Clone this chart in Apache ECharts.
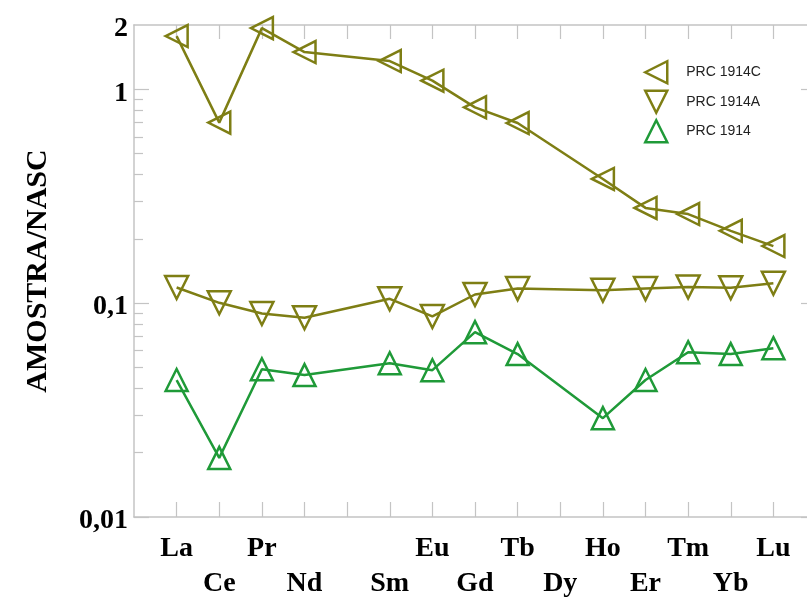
<!DOCTYPE html>
<html>
<head>
<meta charset="utf-8">
<script src="https://cdn.jsdelivr.net/npm/echarts@6/dist/echarts.min.js"></script>
<style>html,body{margin:0;padding:0;background:#fff}#c{width:807px;height:599px}</style>
</head>
<body>
<div id="c"></div>
<script>
// Elements (Pm has no label / no data)
var elements = ['La','Ce','Pr','Nd','Pm','Sm','Eu','Gd','Tb','Dy','Ho','Er','Tm','Yb','Lu'];
var elementLabels = ['La','Ce','Pr','Nd','','Sm','Eu','Gd','Tb','Dy','Ho','Er','Tm','Yb','Lu'];
// values (AMOSTRA/NASC), null = not analysed
var prc1914C = [1.775, 0.699, 1.934, 1.494, null, 1.356, 1.098, 0.824, 0.696, null, 0.381, 0.279, 0.261, 0.218, 0.185];
var prc1914A = [0.1184, 0.1004, 0.0895, 0.0855, null, 0.1048, 0.0867, 0.1098, 0.117, null, 0.115, 0.117, 0.119, 0.118, 0.124];
var prc1914  = [0.0437, 0.0189, 0.0491, 0.0461, null, 0.0524, 0.0486, 0.0732, 0.0578, null, 0.0290, 0.0437, 0.0590, 0.0578, 0.0616];
var yMajorTicks = [0.01, 0.1, 1];
var yTickLabels = [0.01, 0.1, 1, 2];
var yMinorTicks = [0.02,0.03,0.04,0.05,0.06,0.07,0.08,0.09,0.2,0.3,0.4,0.5,0.6,0.7,0.8,0.9];
var xTickPositions = [1,2,3,4,5,6,7,8,9,10,11,12,13,14,15];

var olive = '#7e7e14';
var green = '#1f9a38';
var axisGrey = '#c4c4c4';

// legend icon shapes (triangle pointing left / down / up)
var iconLeft = 'path://M0,5L10,0L10,10Z';
var iconDown = 'path://M0,0L10,0L5,10Z';
var iconUp = 'path://M5,0L10,10L0,10Z';

function toPairs(arr) {
  var out = [];
  arr.forEach(function (v, i) { if (v !== null) out.push([i + 1, v]); });
  return out;
}

function fmtY(v) {
  var s = String(+v.toPrecision(6));
  return '{a|' + s.replace('.', ',') + '}';
}

var chart = echarts.init(document.getElementById('c'));

function yAxisDef(pos, ticks, len, showLabels, showLine) {
  return {
    type: 'log', logBase: 10, min: 0.01, max: 2, position: pos,
    axisLine: {show: showLine, lineStyle: {color: axisGrey, width: 1.5}},
    axisTick: {show: true, inside: true, length: len, customValues: ticks, lineStyle: {color: axisGrey, width: 1.2}},
    axisLabel: showLabels ? {
      show: true, customValues: yTickLabels, margin: 6,
      fontFamily: 'Liberation Serif', fontWeight: 'bold', fontSize: 28, color: '#000',
      formatter: fmtY,
      rich: {a: {fontFamily: 'Liberation Serif', fontWeight: 'bold', fontSize: 28, color: '#000', padding: [8, 0, 0, 0]}}
    } : {show: false},
    splitLine: {show: false}
  };
}

var yAxes = [
  Object.assign(yAxisDef('left', yMajorTicks, 15, true, true), {
    name: 'AMOSTRA/NASC', nameLocation: 'middle', nameGap: 81, nameRotate: 90,
    nameTextStyle: {fontFamily: 'Liberation Serif', fontWeight: 'bold', fontSize: 30, color: '#000'}
  }),
  yAxisDef('left', yMinorTicks, 9, false, false),
  yAxisDef('right', yMajorTicks, 15, false, true),
  yAxisDef('right', yMinorTicks, 9, false, false)
];

function mkSeries(name, data, color, rot, size) {
  return {
    name: name, type: 'line', data: toPairs(data),
    xAxisIndex: 0, yAxisIndex: 0,
    symbol: 'triangle', symbolSize: size, symbolRotate: rot,
    showAllSymbol: true,
    lineStyle: {color: color, width: 2.5},
    itemStyle: {color: 'rgba(255,255,255,0)', borderColor: color, borderWidth: 2.5},
    emphasis: {disabled: true},
    z: 3
  };
}

chart.setOption({
  animation: false,
  backgroundColor: '#fff',
  grid: {left: 134, top: 25, width: 682, height: 492, containLabel: false, outerBoundsMode: 'none'},
  legend: {
    orient: 'vertical', left: 644, top: 60, padding: 0,
    itemWidth: 22, itemHeight: 22, itemGap: 5,
    itemStyle: {borderWidth: 2.5},
    textStyle: {fontFamily: 'Liberation Sans', fontSize: 14, color: '#222', padding: [0, 0, 0, 14]},
    data: [
      {name: 'PRC 1914C', icon: iconLeft},
      {name: 'PRC 1914A', icon: iconDown},
      {name: 'PRC 1914', icon: iconUp}
    ]
  },
  xAxis: [
    {
      type: 'value', min: 0, max: 16, interval: 1, position: 'bottom',
      axisLine: {show: true, lineStyle: {color: axisGrey, width: 1.5}},
      axisTick: {show: true, inside: true, length: 15, customValues: xTickPositions, lineStyle: {color: axisGrey, width: 1.2}},
      axisLabel: {
        show: true, customValues: xTickPositions, margin: 14,
        fontFamily: 'Liberation Serif', fontWeight: 'bold', fontSize: 28, color: '#000', lineHeight: 35,
        formatter: function (v) {
          var i = Math.round(v) - 1;
          var lab = elementLabels[i] || '';
          if (!lab) return '';
          return (i % 2 === 1) ? '\n' + lab : lab;
        }
      },
      splitLine: {show: false}
    },
    {
      type: 'value', min: 0, max: 16, interval: 1, position: 'top',
      axisLine: {show: true, lineStyle: {color: axisGrey, width: 1.5}},
      axisTick: {show: true, inside: true, length: 14, customValues: xTickPositions, lineStyle: {color: axisGrey, width: 1.2}},
      axisLabel: {show: false},
      splitLine: {show: false}
    }
  ],
  yAxis: yAxes,
  series: [
    mkSeries('PRC 1914C', prc1914C, olive, 90, 22),
    mkSeries('PRC 1914A', prc1914A, olive, 180, 23),
    mkSeries('PRC 1914', prc1914, green, 0, 22)
  ]
});
</script>
</body>
</html>
